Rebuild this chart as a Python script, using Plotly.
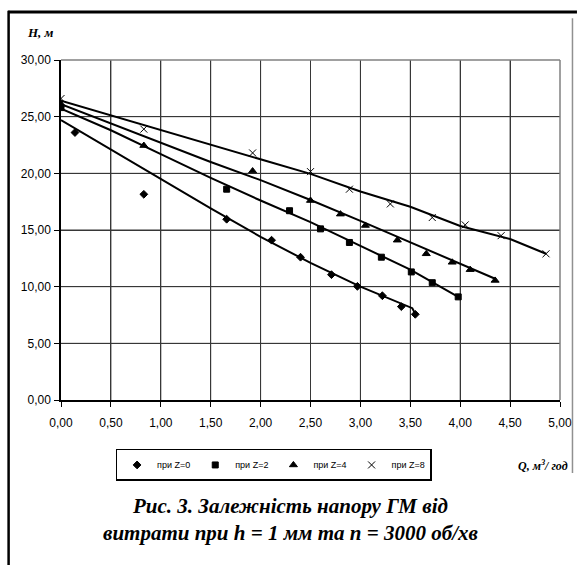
import plotly.graph_objects as go

# ---- data ----
q_z0 = [0.14, 0.83, 1.66, 2.11, 2.40, 2.71, 2.97, 3.22, 3.41, 3.55]
h_z0 = [23.6, 18.15, 15.95, 14.1, 12.6, 11.06, 10.03, 9.2, 8.24, 7.56]
q_z2 = [0.0, 1.66, 2.29, 2.60, 2.89, 3.21, 3.51, 3.72, 3.98]
h_z2 = [25.8, 18.6, 16.7, 15.1, 13.9, 12.6, 11.3, 10.35, 9.1]
q_z4 = [0.0, 0.83, 1.92, 2.50, 2.80, 3.05, 3.37, 3.66, 3.92, 4.10, 4.35]
h_z4 = [26.1, 22.45, 20.2, 17.6, 16.4, 15.4, 14.1, 12.9, 12.15, 11.5, 10.55]
q_z8 = [0.0, 0.83, 1.92, 2.50, 2.89, 3.30, 3.72, 4.05, 4.41, 4.86]
h_z8 = [26.6, 23.9, 21.8, 20.15, 18.6, 17.3, 16.1, 15.45, 14.5, 12.9]

# smoothed curves drawn through the points
lq_z0 = [0.0, 0.5, 1.0, 1.5, 2.0, 2.5, 3.0, 3.5, 3.52, 3.55]
lh_z0 = [24.7, 22.1, 19.5, 16.9, 14.4, 12.1, 10.0, 8.2, 8.1, 7.6]
lq_z2 = [0.0, 0.5, 1.0, 1.5, 2.0, 2.5, 3.0, 3.5, 3.98]
lh_z2 = [25.7, 23.8, 21.7, 19.6, 17.6, 15.7, 13.6, 11.5, 9.1]
lq_z4 = [0.0, 0.5, 1.0, 1.5, 2.0, 2.5, 3.0, 3.5, 4.0, 4.35]
lh_z4 = [26.1, 24.4, 22.7, 21.0, 19.4, 17.65, 15.8, 13.9, 12.05, 10.7]
lq_z8 = [0.0, 0.5, 1.0, 1.5, 2.0, 2.5, 3.0, 3.5, 4.0, 4.5, 4.86]
lh_z8 = [26.4, 25.1, 23.8, 22.55, 21.25, 19.95, 18.4, 17.05, 15.35, 14.2, 12.9]

series_names = ["при Z=0", "при Z=2", "при Z=4", "при Z=8"]

x_ticks = [0.0, 0.5, 1.0, 1.5, 2.0, 2.5, 3.0, 3.5, 4.0, 4.5, 5.0]
x_tick_labels = ["0,00", "0,50", "1,00", "1,50", "2,00", "2,50", "3,00", "3,50", "4,00", "4,50", "5,00"]
y_ticks = [0, 5, 10, 15, 20, 25, 30]
y_tick_labels = ["0,00", "5,00", "10,00", "15,00", "20,00", "25,00", "30,00"]

caption = "Рис. 3. Залежність напору ГМ від<br>витрати при h = 1 мм та n = 3000 об/хв"

# ---- figure ----
fig = go.Figure()
lines = [(lq_z0, lh_z0), (lq_z2, lh_z2), (lq_z4, lh_z4), (lq_z8, lh_z8)]
for lx, ly in lines:
    fig.add_trace(go.Scatter(x=lx, y=ly, mode="lines", showlegend=False,
                             line=dict(color="black", width=2), hoverinfo="skip"))

pts = [(q_z0, h_z0, "diamond", 6), (q_z2, h_z2, "square", 6),
       (q_z4, h_z4, "triangle-up", 7), (q_z8, h_z8, "x-thin", 7)]
for (px, py, sym, sz), name in zip(pts, series_names):
    fig.add_trace(go.Scatter(x=px, y=py, mode="markers", name=name,
                             marker=dict(symbol=sym, size=sz, color="black",
                                         line=dict(color="black", width=1))))

tick_font = dict(family="Liberation Sans", size=12, color="black")
grid_col = "rgb(55,55,55)"

fig.update_layout(
    width=577, height=565, autosize=False,
    margin=dict(l=61, r=17, t=60, b=165, autoexpand=False),
    paper_bgcolor="white", plot_bgcolor="white",
    font=dict(family="Liberation Sans", color="black"),
    xaxis=dict(range=[0, 5], tickmode="array", tickvals=x_ticks, ticktext=x_tick_labels,
               showgrid=True, gridcolor=grid_col, gridwidth=1,
               showline=True, linecolor="black", linewidth=1.5,
               ticks="outside", ticklen=5, tickcolor="black", automargin=False,
               ticklabelstandoff=6,
               tickfont=tick_font, zeroline=False, fixedrange=True),
    yaxis=dict(range=[0, 30], tickmode="array", tickvals=y_ticks, ticktext=y_tick_labels,
               showgrid=True, gridcolor=grid_col, gridwidth=1,
               showline=True, linecolor="black", linewidth=1.5,
               ticks="outside", ticklen=5, tickcolor="black", automargin=False,
               ticklabelstandoff=1,
               tickfont=tick_font, zeroline=False, fixedrange=True),
    legend=dict(orientation="h", x=0.426, y=-0.191, xanchor="center", yanchor="middle",
                borderwidth=1.5, bordercolor="black", bgcolor="white",
                font=dict(family="Liberation Sans", size=9),
                itemwidth=30, tracegroupgap=0),
    showlegend=True,
)

# grid lines at the tick positions (drawn through the axes' own scales)
for v in x_ticks[1:-1]:
    fig.add_shape(type="line", xref="x", yref="paper", x0=v, x1=v, y0=0, y1=1,
                  layer="below", line=dict(color=grid_col, width=1))
for v in y_ticks[1:-1]:
    fig.add_shape(type="line", xref="paper", yref="y", x0=0, x1=1, y0=v, y1=v,
                  layer="below", line=dict(color=grid_col, width=1))

# plot-area border (gray top/right)
fig.add_shape(type="line", xref="paper", yref="paper", x0=0, x1=1, y0=1, y1=1,
              line=dict(color="#808080", width=1.5))
fig.add_shape(type="line", xref="paper", yref="paper", x0=1, x1=1, y0=0, y1=1,
              line=dict(color="#808080", width=1.5))

# outer frame: top black, left black, right gray
fig.add_shape(type="line", xref="paper", yref="paper", x0=-0.106, x1=1.034, y0=1.141, y1=1.141,
              line=dict(color="black", width=3))
fig.add_shape(type="line", xref="paper", yref="paper", x0=-0.105, x1=-0.105, y0=1.145, y1=-0.5,
              line=dict(color="black", width=2.5))
fig.add_shape(type="line", xref="paper", yref="paper", x0=1.025, x1=1.025, y0=1.123, y1=-0.215,
              line=dict(color="#909090", width=1.5))

# axis titles
fig.add_annotation(xref="paper", yref="paper", x=-0.072, y=1.082, xanchor="left", yanchor="middle",
                   text="<b><i>H, м</i></b>", showarrow=False,
                   font=dict(family="Liberation Serif", size=13, color="black"))
fig.add_annotation(xref="paper", yref="paper", x=1.02, y=-0.193, xanchor="right", yanchor="middle",
                   text="<b><i>Q, м<sup>3</sup>/ год</i></b>", showarrow=False,
                   font=dict(family="Liberation Serif", size=12, color="black"))

# caption
fig.add_annotation(xref="paper", yref="paper", x=0.46, y=-0.350, xanchor="center", yanchor="middle",
                   text="<b><i>" + caption + "</i></b>", showarrow=False,
                   font=dict(family="Liberation Serif", size=21, color="black"))

fig.write_html("out.html", config={"displayModeBar": False},
               post_script="document.body.style.margin='0';document.body.style.overflow='hidden';")
